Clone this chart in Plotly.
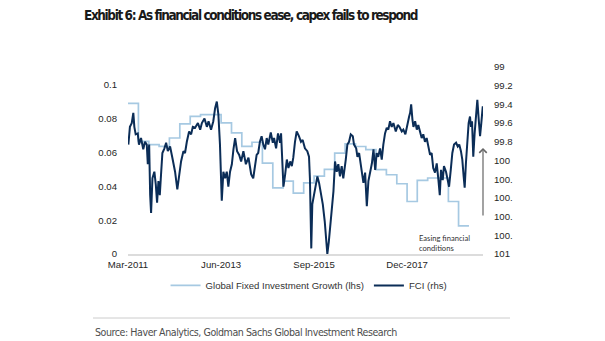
import plotly.graph_objects as go

# ---- Data ----
gfig_dates = ["2011-03-01", "2011-06-01", "2011-09-01", "2011-12-01",
              "2012-03-01", "2012-06-01", "2012-09-01", "2012-12-01",
              "2013-03-01", "2013-06-01", "2013-09-01", "2013-12-01",
              "2014-03-01", "2014-06-01", "2014-09-01", "2014-12-01",
              "2015-03-01", "2015-06-01", "2015-09-01", "2015-12-01",
              "2016-03-01", "2016-06-01", "2016-09-01", "2016-12-01",
              "2017-03-01", "2017-06-01", "2017-09-01", "2017-12-01",
              "2018-03-01", "2018-06-01", "2018-09-01", "2018-12-01",
              "2019-03-01", "2019-06-01"]
gfig_values = [0.089, 0.0665, 0.0646, 0.0636,
               0.0685, 0.0768, 0.0813, 0.0823,
               0.0823, 0.0774, 0.0715, 0.0636,
               0.066, 0.0537, 0.039, 0.043,
               0.036, 0.042, 0.046, 0.050,
               0.0596, 0.065, 0.0635, 0.0616,
               0.0498, 0.0468, 0.0415, 0.031,
               0.0435, 0.0449, 0.0449, 0.031,
               0.0166, 0.0166]

fci_dates = [
    "2011-03-04", "2011-03-18", "2011-04-03", "2011-04-17", "2011-04-26", "2011-05-08", "2011-05-26", "2011-06-06",
    "2011-06-24", "2011-07-14", "2011-07-29", "2011-08-14", "2011-08-23", "2011-09-04", "2011-09-13", "2011-09-21",
    "2011-10-03", "2011-10-20", "2011-11-02", "2011-11-13", "2011-11-25", "2011-12-07", "2011-12-18", "2011-12-30",
    "2012-01-17", "2012-02-01", "2012-02-16", "2012-03-07", "2012-03-27", "2012-04-20", "2012-05-10", "2012-05-28",
    "2012-06-12", "2012-07-03", "2012-07-17", "2012-08-02", "2012-08-22", "2012-09-09", "2012-09-24", "2012-10-14",
    "2012-11-08", "2012-11-28", "2012-12-13", "2013-01-05", "2013-01-26", "2013-02-10", "2013-03-04", "2013-03-24",
    "2013-04-09", "2013-04-24", "2013-05-08", "2013-05-22", "2013-06-07", "2013-06-21", "2013-07-06", "2013-07-21",
    "2013-08-04", "2013-08-19", "2013-09-04", "2013-09-18", "2013-10-03", "2013-10-20", "2013-11-08", "2013-11-25",
    "2013-12-15", "2014-01-06", "2014-01-29", "2014-02-22", "2014-03-12", "2014-04-11", "2014-04-25", "2014-05-10",
    "2014-05-25", "2014-06-09", "2014-06-24", "2014-07-09", "2014-07-23", "2014-08-14", "2014-09-01", "2014-09-12",
    "2014-09-30", "2014-10-17", "2014-11-04", "2014-11-13", "2014-11-25", "2014-12-04", "2014-12-19", "2015-01-03",
    "2015-01-17", "2015-02-02", "2015-02-16", "2015-03-01", "2015-03-16", "2015-03-31", "2015-04-20", "2015-05-08",
    "2015-05-23", "2015-06-12", "2015-07-03", "2015-07-18", "2015-07-26", "2015-08-02", "2015-08-07", "2015-08-16",
    "2015-09-01", "2015-09-16", "2015-09-30", "2015-10-15", "2015-10-30", "2015-11-17", "2015-12-04", "2015-12-16",
    "2015-12-27", "2016-01-09", "2016-01-20", "2016-02-05", "2016-02-19", "2016-03-04", "2016-03-19", "2016-04-02",
    "2016-04-17", "2016-05-02", "2016-05-16", "2016-06-07", "2016-06-21", "2016-07-06", "2016-07-21", "2016-08-08",
    "2016-08-19", "2016-09-07", "2016-09-18", "2016-10-03", "2016-10-18", "2016-10-29", "2016-11-10", "2016-11-25",
    "2016-12-10", "2016-12-24", "2017-01-09", "2017-01-24", "2017-02-07", "2017-02-22", "2017-03-07", "2017-03-21",
    "2017-04-06", "2017-04-21", "2017-05-05", "2017-05-20", "2017-06-04", "2017-06-18", "2017-07-03", "2017-07-18",
    "2017-08-02", "2017-08-23", "2017-09-10", "2017-09-24", "2017-10-15", "2017-10-29", "2017-11-16", "2017-12-04",
    "2017-12-19", "2017-12-28", "2018-01-06", "2018-01-17", "2018-01-26", "2018-02-10", "2018-02-25", "2018-03-10",
    "2018-03-25", "2018-04-09", "2018-04-23", "2018-05-08", "2018-05-23", "2018-06-07", "2018-06-22", "2018-07-06",
    "2018-07-20", "2018-08-05", "2018-08-20", "2018-09-04", "2018-09-16", "2018-09-27", "2018-10-12", "2018-10-23",
    "2018-11-10", "2018-11-25", "2018-12-07", "2018-12-22", "2019-01-05", "2019-01-20", "2019-02-07", "2019-02-22",
    "2019-03-07", "2019-03-22", "2019-04-03", "2019-04-15", "2019-04-24", "2019-05-05", "2019-05-17", "2019-05-29",
    "2019-06-10", "2019-06-19", "2019-06-28", "2019-07-09", "2019-07-21", "2019-08-02", "2019-08-14", "2019-08-26",
    "2019-09-07", "2019-09-18", "2019-10-01"]
fci_values = [
    99.83, 99.64, 99.60, 99.49, 99.64, 99.72, 99.71, 99.83,
    99.76, 99.88, 99.80, 99.83, 100.04, 99.83, 100.37, 100.56,
    100.19, 100.12, 100.26, 100.45, 100.22, 100.37, 100.15, 99.92,
    99.87, 99.81, 99.90, 99.85, 99.97, 100.12, 100.31, 100.15,
    100.01, 99.90, 99.92, 99.80, 99.69, 99.72, 99.64, 99.65,
    99.60, 99.67, 99.60, 99.55, 99.64, 99.58, 99.67, 99.58,
    99.44, 99.37, 99.51, 99.83, 100.43, 100.12, 100.19, 100.12,
    100.28, 100.12, 100.04, 99.88, 99.76, 99.90, 99.94, 100.01,
    99.90, 100.04, 99.97, 100.15, 100.19, 99.94, 99.92, 99.80,
    99.74, 99.83, 99.88, 99.76, 99.83, 99.70, 99.81, 99.76,
    99.87, 99.71, 99.81, 99.71, 100.01, 100.28, 100.15, 99.99,
    100.08, 100.01, 100.06, 99.97, 99.80, 99.69, 99.74, 99.80,
    99.78, 99.87, 99.90, 99.96, 100.19, 100.54, 100.94, 100.47,
    100.37, 100.26, 100.17, 100.24, 100.33, 100.47, 100.65, 100.83,
    101.00, 100.87, 100.72, 100.54, 100.33, 100.01, 100.12, 100.04,
    100.17, 100.06, 100.19, 99.99, 99.83, 99.80, 99.72, 99.74,
    99.83, 99.87, 99.96, 99.92, 100.04, 100.15, 100.24, 100.13,
    100.49, 100.22, 100.12, 100.03, 99.88, 100.10, 99.92, 99.96,
    99.87, 99.99, 99.83, 99.71, 99.65, 99.67, 99.58, 99.64,
    99.60, 99.69, 99.62, 99.64, 99.69, 99.67, 99.72, 99.60,
    99.53, 99.49, 99.40, 99.56, 99.64, 99.58, 99.67, 99.62,
    99.71, 99.76, 99.72, 99.80, 99.76, 99.87, 99.94, 99.92,
    100.08, 100.13, 100.03, 100.21, 100.37, 100.10, 100.21, 100.06,
    100.12, 100.21, 100.28, 100.10, 99.92, 99.83, 99.81, 99.85,
    99.83, 99.90, 99.99, 100.17, 100.29, 100.03, 99.78, 99.60,
    99.53, 99.64, 99.58, 99.96, 99.71, 99.55, 99.35, 99.56,
    99.74, 99.60, 99.42]

x_tick_vals = ["2011-03-01", "2013-06-01", "2015-09-01", "2017-12-01"]
x_tick_text = ["Mar-2011", "Jun-2013", "Sep-2015", "Dec-2017"]
left_tick_vals = [0, 0.02, 0.04, 0.06, 0.08, 0.1]
left_tick_text = ["0", "0.02", "0.04", "0.06", "0.08", "0.1"]
right_tick_vals = [99.0, 99.2, 99.4, 99.6, 99.8, 100.0, 100.2, 100.4, 100.6, 100.8, 101.0]
right_tick_text = ["99", "99.2", "99.4", "99.6", "99.8", "100", "100.", "100.", "100.", "100.", "101"]

LIGHT = "#a6c9e2"
DARK = "#0b2d57"
TICKFONT = dict(family="Arial, Liberation Sans, sans-serif", size=9.6, color="#262626")
CONDENSED = "Liberation Sans Narrow, DejaVu Sans Condensed, sans-serif"

fig = go.Figure()
fig.add_trace(go.Scatter(
    x=gfig_dates, y=gfig_values, mode="lines", line=dict(color=LIGHT, width=1.7, shape="hv"),
    name="Global Fixed Investment Growth (lhs)", yaxis="y"))
fig.add_trace(go.Scatter(
    x=fci_dates, y=fci_values, mode="lines", line=dict(color=DARK, width=2),
    name="FCI (rhs)", yaxis="y2"))

fig.update_layout(
    width=605, height=341,
    margin=dict(l=128, r=122, t=67, b=87),
    paper_bgcolor="white", plot_bgcolor="white",
    showlegend=True,
    legend=dict(orientation="h", x=0.51, xanchor="center", y=-0.168, yanchor="middle",
                font=dict(family="Arial, Liberation Sans, sans-serif", size=9.6, color="#333333"),
                bgcolor="rgba(0,0,0,0)", itemwidth=30, tracegroupgap=0),
    xaxis=dict(type="date", range=["2011-03-01", "2019-10-03"], tickvals=x_tick_vals,
               ticktext=x_tick_text, showgrid=False, zeroline=False, showline=True,
               linecolor="#dcdcdc", linewidth=2, ticks="", tickfont=TICKFONT),
    yaxis=dict(range=[0, 0.11045], tickvals=left_tick_vals, ticktext=left_tick_text,
               showgrid=False, zeroline=False, showline=False, ticks="", tickfont=TICKFONT,
               ticklabelstandoff=10),
    yaxis2=dict(range=[101, 99], overlaying="y", side="right", tickvals=right_tick_vals,
                ticktext=right_tick_text, showgrid=False, zeroline=False, showline=False,
                ticks="", tickfont=TICKFONT, ticklabelstandoff=10),
)

PW, PH = 355.0, 187.0
def px(xp):
    return (xp - 128) / PW
def py(yp):
    return (254 - yp) / PH

annotations = [
    dict(text="<span style='letter-spacing:-1.4px'><b>Exhibit 6: As financial conditions ease, capex fails to respond</b></span>",
         xref="paper", yref="paper", x=px(82), y=py(15), xanchor="left", yanchor="middle",
         showarrow=False, font=dict(family=CONDENSED, size=13.5, color="#1a1a1a")),
    dict(text="Easing financial<br>conditions", xref="paper", yref="paper", x=px(417), y=py(243),
         xanchor="left", yanchor="middle", align="left", showarrow=False,
         font=dict(family="Lato, sans-serif", size=7.6, color="#333333")),
    dict(text="", xref="paper", yref="paper", x=px(483), y=py(148), ax=0, ay=69,
         showarrow=True, arrowhead=4, arrowsize=1.2, arrowwidth=1.2, arrowcolor="#666666"),
    dict(text="<span style='letter-spacing:-0.45px'>Source: Haver Analytics, Goldman Sachs Global Investment Research</span>",
         xref="paper", yref="paper", x=px(93), y=py(332), xanchor="left", yanchor="middle",
         showarrow=False, font=dict(family=CONDENSED, size=10.6, color="#4d4d4d")),
]
fig.update_layout(annotations=annotations)
fig.add_shape(type="line", xref="paper", yref="paper", x0=px(93), x1=px(510), y0=py(318), y1=py(318),
              line=dict(color="#cccccc", width=1))

fig.write_html("out.html")
